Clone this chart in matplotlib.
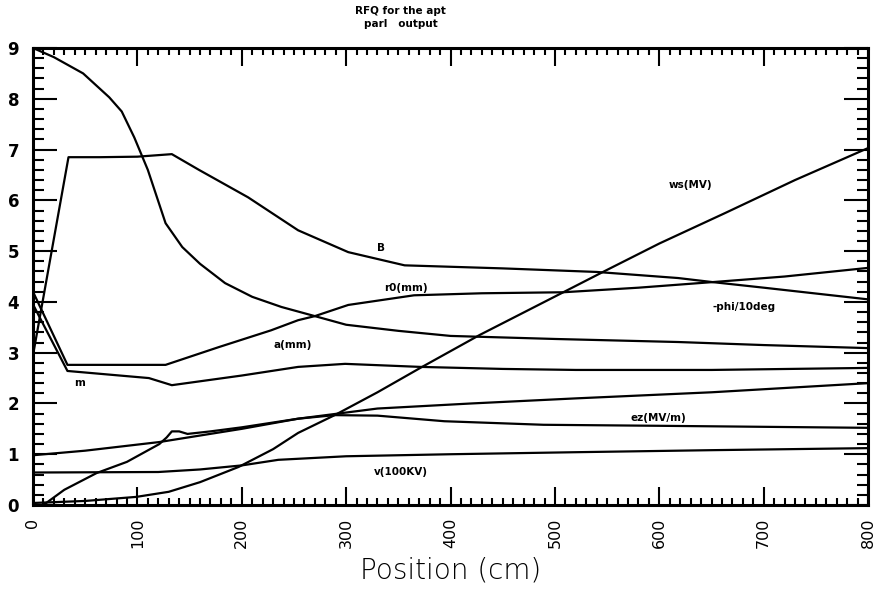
import numpy as np
import matplotlib.pyplot as plt
from matplotlib.ticker import MultipleLocator


# ==============================
# Data (position in cm)
# ==============================

ws_pos = [0, 50, 99, 130, 160, 197, 230, 254, 289, 330, 371, 428, 508, 546, 600, 663, 730, 800]
ws_val = [0.04, 0.08, 0.16, 0.26, 0.45, 0.75, 1.1, 1.42, 1.77, 2.22, 2.70, 3.35, 4.19, 4.59, 5.15, 5.75, 6.4, 7.03]

b_pos = [0, 34, 64, 100, 133, 159, 206, 254, 302, 356, 450, 540, 618, 651, 700, 800]
b_val = [2.95, 6.85, 6.85, 6.86, 6.91, 6.6, 6.06, 5.41, 4.98, 4.72, 4.66, 4.59, 4.47, 4.39, 4.28, 4.05]

phi_pos = [0, 20, 48, 73, 85, 97, 110, 127, 143, 160, 184, 210, 238, 270, 300, 350, 400, 500, 618, 700, 800]
phi_val = [9.0, 8.82, 8.5, 8.03, 7.75, 7.24, 6.6, 5.55, 5.08, 4.75, 4.37, 4.1, 3.9, 3.72, 3.55, 3.43, 3.33, 3.27, 3.21, 3.15, 3.09]

r0_pos = [0, 33, 127, 178, 228, 254, 270, 302, 365, 430, 508, 580, 651, 720, 800]
r0_val = [4.2, 2.76, 2.76, 3.11, 3.44, 3.64, 3.72, 3.94, 4.13, 4.17, 4.19, 4.28, 4.39, 4.5, 4.67]

a_pos = [0, 33, 111, 133, 200, 254, 299, 371, 450, 520, 650, 800]
a_val = [3.95, 2.64, 2.5, 2.36, 2.55, 2.72, 2.78, 2.72, 2.68, 2.66, 2.66, 2.70]

m_pos = [0, 50, 121, 200, 254, 330, 420, 520, 650, 800]
m_val = [0.98, 1.07, 1.24, 1.5, 1.70, 1.9, 2.0, 2.1, 2.22, 2.40]

ez_pos = [0, 10, 30, 61, 90, 121, 128, 133, 140, 148, 170, 200, 254, 289, 330, 394, 489, 600, 700, 800]
ez_val = [0.0, 0.0, 0.3, 0.63, 0.85, 1.2, 1.33, 1.45, 1.45, 1.40, 1.45, 1.53, 1.70, 1.77, 1.76, 1.65, 1.58, 1.56, 1.54, 1.52]

v_pos = [0, 120, 160, 200, 235, 300, 400, 520, 650, 800]
v_val = [0.64, 0.65, 0.70, 0.78, 0.89, 0.96, 1.0, 1.04, 1.08, 1.12]

# curve labels: text, x, y
labels = [
    ("ws(MV)", 630, 6.3),
    ("B", 333, 5.06),
    ("r0(mm)", 357, 4.27),
    ("-phi/10deg", 681, 3.9),
    ("a(mm)", 249, 3.15),
    ("m", 45, 2.4),
    ("ez(MV/m)", 599, 1.71),
    ("v(100KV)", 352, 0.65),
]

x_ticks = [0, 100, 200, 300, 400, 500, 600, 700, 800]
y_ticks = [0, 1, 2, 3, 4, 5, 6, 7, 8, 9]


# ==============================
# Figure
# ==============================

fig = plt.figure(figsize=(8.8, 5.98), dpi=100)

ax = fig.add_axes([0.0375, 0.1555, 0.949, 0.7642])

for xs, ys in [
    (ws_pos, ws_val),
    (b_pos, b_val),
    (phi_pos, phi_val),
    (r0_pos, r0_val),
    (a_pos, a_val),
    (m_pos, m_val),
    (ez_pos, ez_val),
    (v_pos, v_val),
]:
    ax.plot(xs, ys, color="black", linewidth=1.6, clip_on=True)

for text, x, y in labels:
    ax.text(
        x, y, text,
        ha="center", va="center",
        fontsize=7.5, fontweight="bold"
    )


# ==============================
# Axes / ticks
# ==============================

ax.set_xlim(0, 800)
ax.set_ylim(0, 9)

ax.set_xticks(x_ticks)
ax.set_yticks(y_ticks)
ax.xaxis.set_minor_locator(MultipleLocator(10))
ax.yaxis.set_minor_locator(MultipleLocator(0.2))

ax.tick_params(
    axis="x", which="major", direction="in",
    top=True, bottom=True, length=13, width=1.5,
    labelrotation=90, labelsize=11.5, pad=9
)
ax.tick_params(
    axis="x", which="minor", direction="in",
    top=True, bottom=True, length=5, width=1.5
)
ax.tick_params(
    axis="y", which="major", direction="in",
    left=True, right=True, length=17, width=1.5,
    labelsize=12, pad=10
)
ax.tick_params(
    axis="y", which="minor", direction="in",
    left=True, right=True, length=8, width=1.5
)

for lab in ax.get_yticklabels():
    lab.set_fontweight("bold")

for spine in ax.spines.values():
    spine.set_linewidth(2.2)

ax.set_xlabel(
    "Position (cm)",
    fontsize=20,
    fontweight="light",
    labelpad=6
)

fig.text(
    0.455, 0.982,
    "RFQ for the apt",
    ha="center", va="center",
    fontsize=7.5, fontweight="bold"
)
fig.text(
    0.455, 0.96,
    "parl   output",
    ha="center", va="center",
    fontsize=7.5, fontweight="bold"
)


fig.savefig("out.png", dpi=100)
